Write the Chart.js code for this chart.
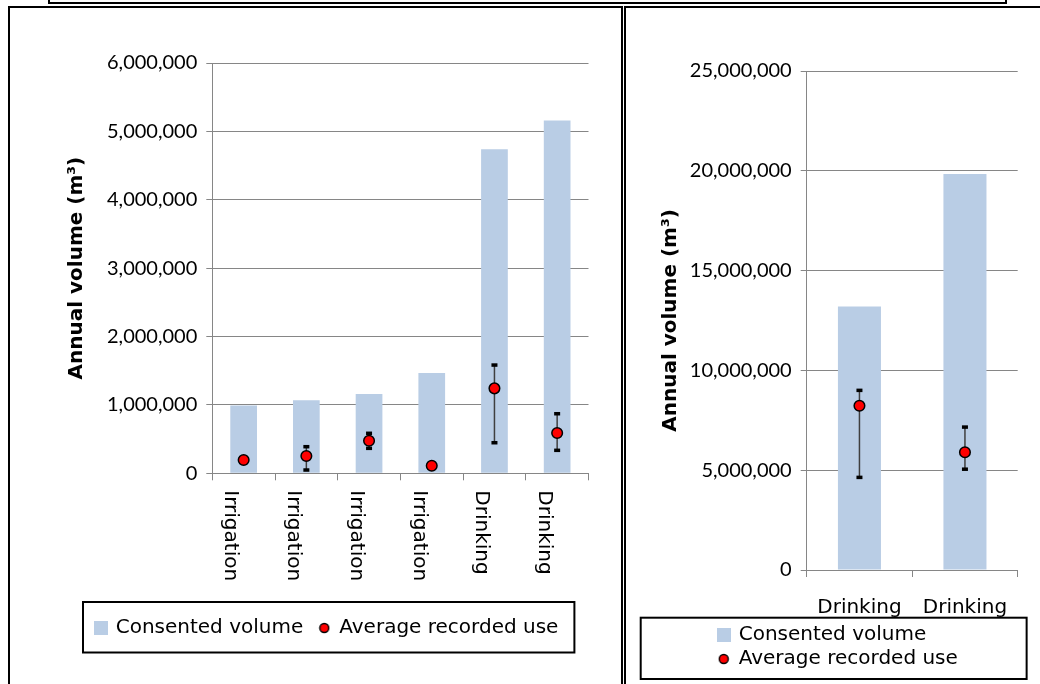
<!DOCTYPE html>
<html><head><meta charset="utf-8">
<script src="https://cdn.jsdelivr.net/npm/chart.js@4/dist/chart.umd.min.js"></script>
<style>
html,body{margin:0;padding:0;background:#fff;width:1040px;height:684px;overflow:hidden;position:relative;}
.box{position:absolute;border:2px solid #000;box-sizing:border-box;}
canvas{position:absolute;}
</style></head><body>
<div class="box" style="left:48px;top:-30px;width:959px;height:34px"></div>
<div class="box" style="left:8px;top:6px;width:615px;height:720px"></div>
<div class="box" style="left:624px;top:6px;width:440px;height:720px"></div>
<canvas id="c1" width="610" height="676" style="left:10px;top:8px"></canvas>
<canvas id="c2" width="414" height="676" style="left:626px;top:8px"></canvas>
<script>
// ---- data ----
const seriesNames = ['Consented volume', 'Average recorded use'];
const yTitle = 'Annual volume (m³)';

const categoriesLeft = ['Irrigation', 'Irrigation', 'Irrigation', 'Irrigation', 'Drinking', 'Drinking'];
const consentedLeft = [990000, 1070000, 1160000, 1465000, 4740000, 5160000];
const recordedLeft = [194000, 253000, 477000, 111000, 1242000, 589000];
const recordedLowLeft = [null, 48000, 365000, null, 447000, 336000];
const recordedHighLeft = [null, 389000, 585000, null, 1583000, 871000];
const yTicksLeft = ['0', '1,000,000', '2,000,000', '3,000,000', '4,000,000', '5,000,000', '6,000,000'];

const categoriesRight = ['Drinking', 'Drinking'];
const consentedRight = [13200000, 19840000];
const recordedRight = [8230000, 5900000];
const recordedLowRight = [4640000, 5050000];
const recordedHighRight = [9000000, 7160000];
const yTicksRight = ['0', '5,000,000', '10,000,000', '15,000,000', '20,000,000', '25,000,000'];

// ---- styles ----
const BAR_COLOR = '#b9cde5';
const GRID = '#868686';

function squareIcon() {
  const c = document.createElement('canvas'); c.width = 14; c.height = 14;
  const g = c.getContext('2d'); g.fillStyle = BAR_COLOR; g.fillRect(0, 0, 14, 14); return c;
}
function circleIcon() {
  const c = document.createElement('canvas'); c.width = 12; c.height = 12;
  const g = c.getContext('2d'); g.beginPath(); g.arc(6, 6, 4.5, 0, Math.PI * 2);
  g.fillStyle = '#ff0000'; g.fill(); g.lineWidth = 1.4; g.strokeStyle = '#000'; g.stroke(); return c;
}
const icons = [squareIcon(), circleIcon()];

const errorBars = {
  id: 'errorBars',
  beforeDatasetDraw(chart, args, opts) {
    if (args.index !== 1 || !opts.low) return;
    const ctx = chart.ctx, xs = chart.scales.x, ys = chart.scales.y;
    ctx.save();
    opts.low.forEach((lo, i) => {
      const hi = opts.high[i];
      if (lo == null || hi == null) return;
      const px = xs.getPixelForValue(i);
      const yl = ys.getPixelForValue(lo), yh = ys.getPixelForValue(hi);
      ctx.strokeStyle = '#3f3f3f'; ctx.lineWidth = 1.5;
      ctx.beginPath(); ctx.moveTo(px, yl); ctx.lineTo(px, yh); ctx.stroke();
      ctx.fillStyle = '#000';
      ctx.fillRect(px - 3, yl - 1.75, 6, 3.5);
      ctx.fillRect(px - 3, yh - 1.75, 6, 3.5);
    });
    ctx.restore();
  }
};

const cwLabels = {
  id: 'cwLabels',
  afterDraw(chart, args, opts) {
    if (!opts.labels) return;
    const ctx = chart.ctx, xs = chart.scales.x;
    ctx.save();
    ctx.font = '20px "DejaVu Sans"';
    ctx.fillStyle = '#000';
    ctx.textAlign = 'left';
    ctx.textBaseline = 'middle';
    opts.labels.forEach((t, i) => {
      const px = xs.getPixelForValue(i);
      ctx.save();
      ctx.translate(px + opts.dx, xs.top + opts.dy);
      ctx.rotate(Math.PI / 2);
      ctx.fillText(t, 0, 0);
      ctx.restore();
    });
    ctx.restore();
  }
};

const legendShift = {
  id: 'legendShift',
  afterLayout(chart, args, opts) {
    if (chart.legend && opts.dx) { chart.legend.left += opts.dx; }
  }
};

const legendBox = {
  id: 'legendBox',
  afterDraw(chart, args, opts) {
    const hb = chart.legend && chart.legend.legendHitBoxes;
    if (!hb || !hb.length || !opts.pad) return;
    let l = Infinity, r = -Infinity, t = Infinity, b = -Infinity;
    hb.forEach(h => { l = Math.min(l, h.left); r = Math.max(r, h.left + h.width); t = Math.min(t, h.top); b = Math.max(b, h.top + h.height); });
    const p = opts.pad;
    const ctx = chart.ctx;
    ctx.save(); ctx.strokeStyle = '#000'; ctx.lineWidth = 2;
    ctx.strokeRect(l - p.left, t - p.top, (r + p.right) - (l - p.left), (b + p.bottom) - (t - p.top));
    ctx.restore();
  }
};

function makeChart(id, d) {
  return new Chart(document.getElementById(id), {
    type: 'bar',
    data: {
      labels: d.categories,
      datasets: [
        { type: 'bar', label: seriesNames[0], data: d.consented, backgroundColor: BAR_COLOR,
          borderWidth: 0, categoryPercentage: 1, barPercentage: d.barPct, order: 2 },
        { type: 'line', label: seriesNames[1], data: d.recorded, showLine: false,
          pointRadius: 5.3, pointHoverRadius: 5.3, pointBorderWidth: 1.5,
          pointBackgroundColor: '#ff0000', pointBorderColor: '#000', order: 1 }
      ]
    },
    plugins: [legendShift, errorBars, cwLabels, legendBox],
    options: {
      responsive: false, animation: false, devicePixelRatio: 1,
      layout: { padding: d.padding },
      plugins: {
        tooltip: { enabled: false },
        title: { display: false },
        legend: {
          display: true, position: 'bottom', align: 'start',
          labels: {
            usePointStyle: true, pointStyleWidth: 10, boxHeight: 20,
            padding: d.legendPad, color: '#000',
            font: { family: 'DejaVu Sans', size: 20 },
            generateLabels: (chart) => chart.data.datasets.map((ds, i) => ({
              text: ds.label, pointStyle: icons[i], datasetIndex: i, hidden: false,
              fillStyle: 'transparent', strokeStyle: 'transparent', lineWidth: 0, fontColor: '#000'
            }))
          }
        },
        legendShift: { dx: d.legendDx },
        errorBars: { low: d.low, high: d.high },
        cwLabels: d.cw,
        legendBox: { pad: d.boxPad }
      },
      scales: {
        x: {
          offset: true,
          grid: { offset: true, drawOnChartArea: false, drawTicks: true, tickLength: 7, color: GRID, lineWidth: 1 },
          border: { color: GRID, width: 1 },
          ticks: d.xTicks,
          afterFit: (s) => { s.height = d.xHeight; }
        },
        y: {
          min: 0, max: d.max,
          ticks: { stepSize: d.step, padding: 9, color: '#000', font: { family: 'Lato', size: 20 },
                   callback: (v, i) => d.yTicks[i] },
          grid: { color: GRID, lineWidth: 1, tickLength: 6, drawTicks: true },
          border: { color: GRID, width: 1 },
          title: { display: true, text: yTitle, color: '#000',
                   font: { family: 'DejaVu Sans', size: 20, weight: 'bold' },
                   padding: { top: d.titlePad, bottom: 0 } },
          afterFit: (s) => { s.width = d.yWidth; }
        }
      }
    }
  });
}

makeChart('c1', {
  categories: categoriesLeft, consented: consentedLeft, recorded: recordedLeft,
  low: recordedLowLeft, high: recordedHighLeft, yTicks: yTicksLeft,
  max: 6000000, step: 1000000, barPct: 0.426,
  padding: { top: 55, left: 69.7, right: 31.5, bottom: 36 },
  legendPad: 16, legendDx: 0, xHeight: 128.7, yWidth: 132.6, titlePad: -15.3,
  xTicks: { display: false },
  cw: { labels: categoriesLeft, dx: -13, dy: 17 },
  boxPad: { left: 12.7, right: 16, top: 16, bottom: 14.5 }
});

makeChart('c2', {
  categories: categoriesRight, consented: consentedRight, recorded: recordedRight,
  low: recordedLowRight, high: recordedHighRight, yTicks: yTicksRight,
  max: 25000000, step: 5000000, barPct: 0.408,
  padding: { top: 63, left: 10, right: 22.3, bottom: 5 },
  legendPad: 4, legendDx: 78.7, xHeight: 51, yWidth: 170.7, titlePad: 23,
  xTicks: { display: true, maxRotation: 0, minRotation: 0, padding: 19, color: '#000',
            font: { family: 'DejaVu Sans', size: 20 } },
  cw: { labels: null },
  boxPad: { left: 78, right: 68.8, top: 7.3, bottom: 10 }
});
</script>
</body></html>
